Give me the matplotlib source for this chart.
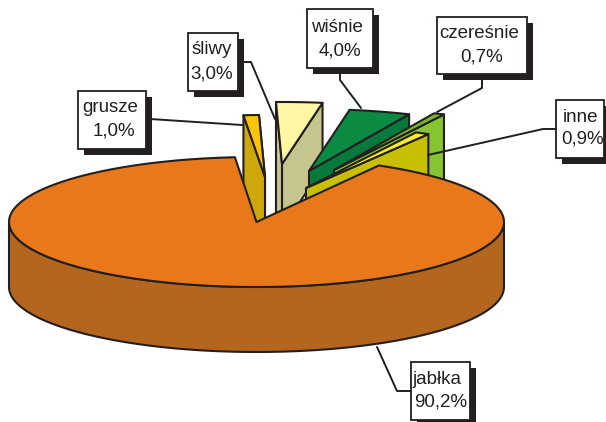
import numpy as np
import matplotlib

matplotlib.use("Agg")
import matplotlib.pyplot as plt

# Values, clockwise from the back of the pie
names = ["grusze", "śliwy", "wiśnie", "czereśnie", "inne", "jabłka"]
values = [1.0, 3.0, 4.0, 0.7, 0.9, 90.2]

# Colours per slice
top_colors = ["#fcc30b", "#fff7a3", "#0b8a43", "#78b82f", "#ffec2b", "#e8781a"]
face_colors = ["#cda70c", "#c7c58f", "#067a3c", "#86c431", "#c9bf02", "#b4661e"]
ink = "#231f20"

# Layout in pixels
cx, cy = 256.5, 222.0
rx, ry = 247.5, 65.0
ry_small = 62.0
depth = 65.0
start_angle = 95.0
apex = [(265, 177), (282, 164), (309, 171), (334, 170), (306, 188)]
box_xy = [(78, 91, 146, 149), (188, 33, 238, 91), (307, 9, 373, 68),
          (437, 17, 527, 74), (556, 100, 604, 158), (411, 362, 470, 420)]
text_xy = [((110, 108), (114, 131)), ((212, 50), (212, 74)), ((337, 27), (340, 51)),
           ((479, 33), (482, 57)), ((580, 117), (583, 139)), ((437, 379), (441, 402))]
leaders = [[(150, 119), (242, 125)],
           [(243, 62), (251, 62), (275, 119)],
           [(340, 68), (340, 80), (361, 108)],
           [(482, 78), (482, 88), (437, 112)],
           [(556, 129), (543, 129), (428, 155)],
           [(377, 347), (397, 391), (411, 391)]]


def arc(x0, y0, a0, a1, b, n=80):
    t = np.radians(np.linspace(a0, a1, n))
    return np.column_stack([x0 + rx * np.cos(t), y0 - b * np.sin(t)])


def poly(ax, pts, color, lw=1.5):
    ax.fill(*np.asarray(pts).T, facecolor=color, edgecolor=ink, linewidth=lw, joinstyle="round")


fig = plt.figure(figsize=(6.06, 4.22), dpi=100)
ax = fig.add_axes([0, 0, 1, 1])
ax.set_xlim(0, 606)
ax.set_ylim(422, 0)
ax.set_axis_off()

plt.rcParams["font.family"] = ["Liberation Sans", "DejaVu Sans"]

# Slice angles from the values
spans = np.array(values) / np.sum(values) * 360
edges = start_angle - np.concatenate([[0], np.cumsum(spans)])

# Small slices, pulled out of the pie
for i in range(5):
    a0, a1 = edges[i], edges[i + 1]
    ax0, ay0 = apex[i]
    outer = arc(ax0, ay0, a0, a1, ry_small, 12)
    left, right = outer[0], outer[-1]
    # right wall, then left wall for the two slices at the back
    poly(ax, [right, (ax0, ay0), (ax0, ay0 + depth), (right[0], right[1] + depth)], face_colors[i])
    if i < 2:
        poly(ax, [left, (ax0, ay0), (ax0, ay0 + depth), (left[0], ay0 + depth)], face_colors[i])
    poly(ax, np.vstack([[(ax0, ay0)], outer]), top_colors[i])

# Apples: rim first, top surface over it
a0, a1 = edges[5], edges[6]
front = arc(cx, cy, 180, 360, ry)
rim = np.vstack([front, (front + [0, depth])[::-1]])
poly(ax, rim, face_colors[5])
poly(ax, np.vstack([[(cx, cy)], arc(cx, cy, a0, a1, ry, 300)]), top_colors[5])

# Leaders, boxes and labels
for line in leaders:
    ax.plot(*np.array(line).T, color=ink, lw=1.4, zorder=3, solid_capstyle="round")

for name, value, box, (p1, p2) in zip(names, values, box_xy, text_xy):
    x0, y0, x1, y1 = box
    ax.fill([x0 + 6, x1 + 6, x1 + 6, x0 + 6], [y0 + 6, y0 + 6, y1 + 6, y1 + 6], color=ink, lw=0, zorder=4)
    ax.fill([x0, x1, x1, x0], [y0, y0, y1, y1], facecolor="white", edgecolor=ink, lw=1.3, zorder=5)
    ax.text(*p1, name, ha="center", va="center", fontsize=13.5, color=ink, zorder=6)
    pct = f"{value:.1f}".replace(".", ",") + "%"
    ax.text(*p2, pct, ha="center", va="center", fontsize=13.5, color=ink, zorder=6)

fig.savefig("out.png", dpi=100)
